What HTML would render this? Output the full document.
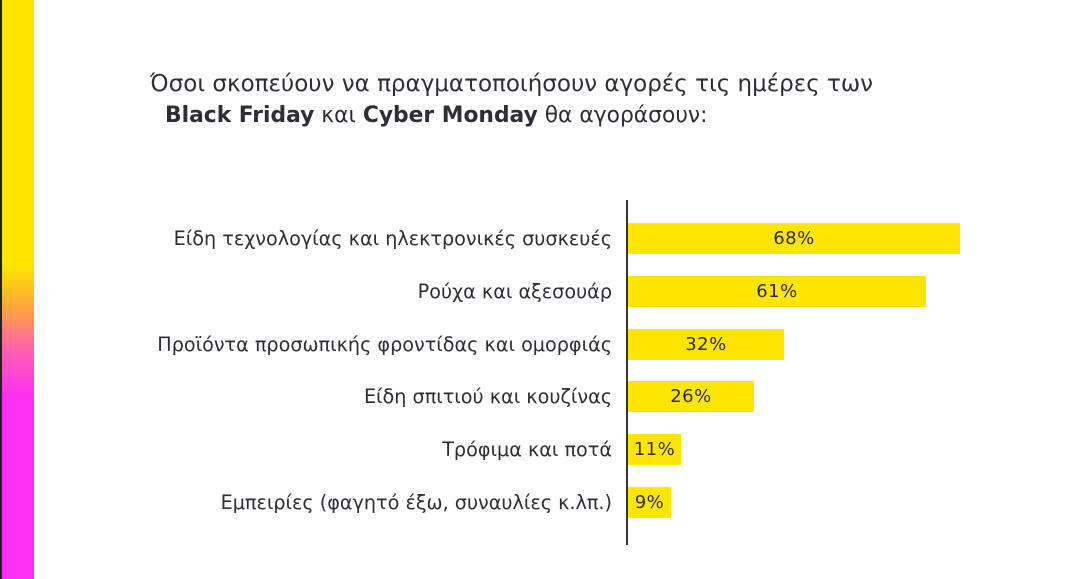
<!DOCTYPE html>
<html><head><meta charset="utf-8"><style>
body{margin:0;width:1088px;height:579px;background:#fff;position:relative;overflow:hidden;font-family:"DejaVu Sans","Liberation Sans",sans-serif;color:#2e2e38}
.side{position:absolute;left:0;top:0;width:34px;height:579px;background:linear-gradient(to bottom,#ffe600 0,#ffe600 265px,#ffa040 310px,#ff60b0 350px,#ff30f0 395px,#ff30f0 579px);border-left:2px solid #222;box-sizing:border-box}
.t{position:absolute;white-space:nowrap}
.axis{position:absolute;left:626px;top:200px;width:2px;height:345px;background:#333}
.bar{position:absolute;left:628px;height:31px;background:#ffe600;font-size:18px;color:#2e2e38;display:flex;align-items:center;justify-content:center;letter-spacing:0.5px}
.lab{position:absolute;right:476px;font-size:19.2px;white-space:nowrap;height:31px;line-height:31px}
</style></head><body>
<div class="side"></div>
<div class="t" style="left:150px;top:71px;font-size:23px">Όσοι σκοπεύουν να πραγματοποιήσουν αγορές τις ημέρες των</div>
<div class="t" style="left:165px;top:103px;font-size:21.8px"><b>Black Friday</b> και <b>Cyber Monday</b> θα αγοράσουν:</div>
<div class="axis"></div>
<div class="lab" style="top:223px">Είδη τεχνολογίας και ηλεκτρονικές συσκευές</div>
<div class="bar" style="top:223px;width:332px">68%</div>
<div class="lab" style="top:276px">Ρούχα και αξεσουάρ</div>
<div class="bar" style="top:276px;width:298px">61%</div>
<div class="lab" style="top:329px">Προϊόντα προσωπικής φροντίδας και ομορφιάς</div>
<div class="bar" style="top:329px;width:156px">32%</div>
<div class="lab" style="top:381px">Είδη σπιτιού και κουζίνας</div>
<div class="bar" style="top:381px;width:126px">26%</div>
<div class="lab" style="top:434px">Τρόφιμα και ποτά</div>
<div class="bar" style="top:434px;width:53px">11%</div>
<div class="lab" style="top:487px">Εμπειρίες (φαγητό έξω, συναυλίες κ.λπ.)</div>
<div class="bar" style="top:487px;width:43px">9%</div>
</body></html>
